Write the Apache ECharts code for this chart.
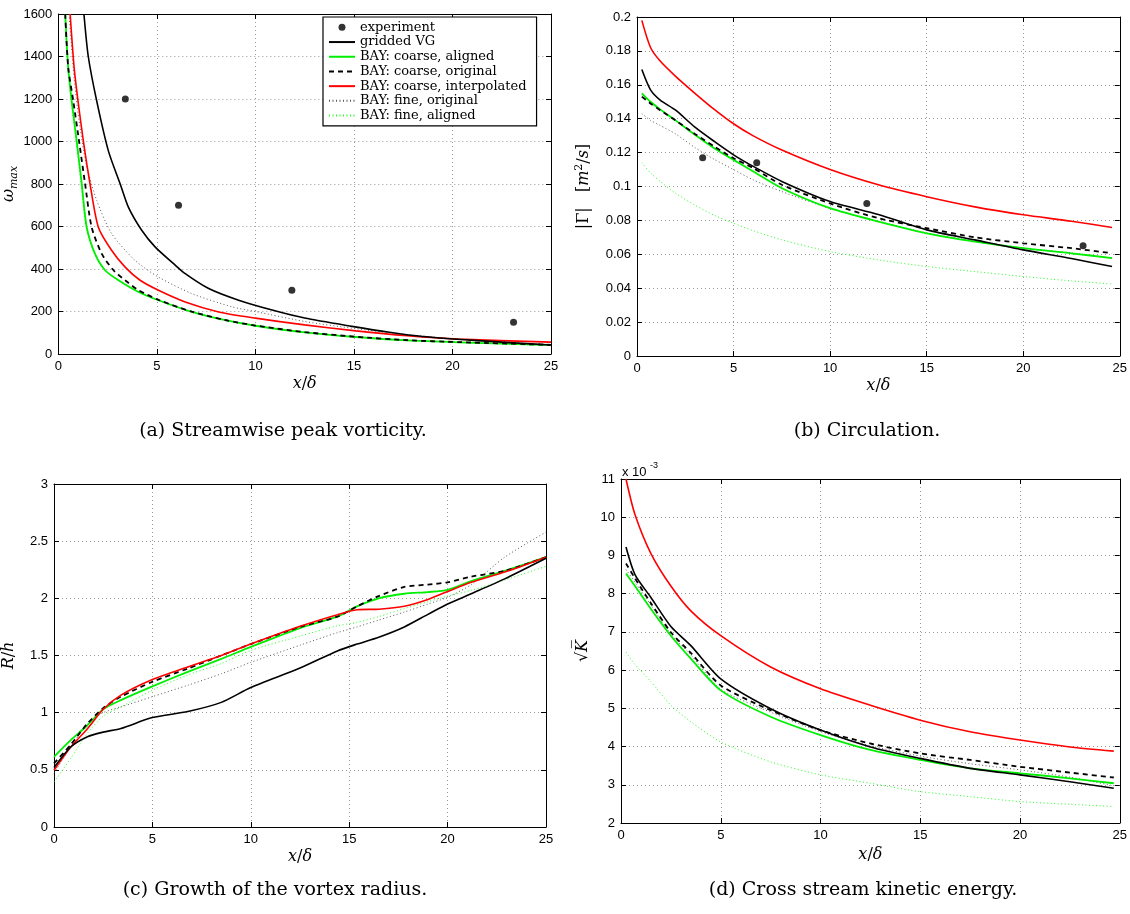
<!DOCTYPE html>
<html>
<head>
<meta charset="utf-8">
<script src="https://cdn.jsdelivr.net/npm/echarts@6/dist/echarts.min.js"></script>
<style>html,body{margin:0;padding:0;background:#fff;}#c{width:1130px;height:914px;}</style>
</head>
<body>
<div id="c"></div>
<script>
// ---------- names ----------
const seriesNames = ['experiment','gridded VG','BAY: coarse, aligned','BAY: coarse, original','BAY: coarse, interpolated','BAY: fine, original','BAY: fine, aligned'];
const xTicks = [0,5,10,15,20,25];
const captions = ['(a) Streamwise peak vorticity.','(b) Circulation.','(c) Growth of the vortex radius.','(d) Cross stream kinetic energy.'];

// ---------- (a) peak vorticity ----------
const aExpX = [3.4, 6.1, 11.85, 23.1];
const aExpY = [1200, 700, 300, 150];
const aVgX = [1.3, 1.52, 1.95, 2.54, 3.14, 3.56, 4.24, 4.92, 5.85, 6.44, 7.63, 9.15, 10.8, 12.5, 14.9, 16.8, 18.5, 21.1, 25];
const aVgY = [1600, 1400, 1190, 956, 800, 690, 581, 503, 425, 378, 308, 253, 208, 169, 130, 102, 82, 64, 42];
const aCaX = [0.35, 0.5, 0.68, 0.93, 1.19, 1.44, 1.86, 2.37, 3.05, 4.07, 5.08, 6.78, 8.47, 10, 12.5, 15.1, 17.7, 20.3, 25];
const aCaY = [1600, 1350, 1190, 1003, 800, 597, 472, 394, 347, 292, 253, 198, 159, 133, 102, 80, 64, 55, 42];
const aCoX = [0.35, 0.5, 0.76, 1.05, 1.36, 1.69, 2.2, 2.8, 3.39, 4.07, 5.08, 6.78, 8.47, 10, 12.5, 15.1, 17.7, 20.3, 25];
const aCoY = [1600, 1350, 1190, 1003, 800, 597, 472, 394, 347, 300, 255, 199, 160, 134, 103, 81, 65, 56, 43];
const aCiX = [0.6, 0.8, 1.0, 1.27, 1.61, 2.03, 2.71, 3.39, 4.15, 5.08, 6.44, 8.14, 10, 12.5, 15.1, 17.7, 20.3, 25];
const aCiY = [1600, 1350, 1190, 1003, 800, 597, 487, 409, 347, 300, 245, 198, 169, 137, 109, 86, 70, 56];
const aFoX = [0.55, 0.8, 1.05, 1.4, 1.95, 2.71, 3.9, 5.08, 6.78, 8.81, 10, 12.5, 15.1, 17.7, 20.3, 25];
const aFoY = [1600, 1300, 1100, 900, 722, 566, 440, 362, 284, 222, 200, 153, 119, 91, 70, 44];
const aFaX = [0.33, 0.48, 0.65, 0.9, 1.15, 1.4, 1.82, 2.4, 3.2, 4.1, 5.08, 6.78, 8.47, 10, 12.5, 15.1, 17.7, 20.3, 25];
const aFaY = [1600, 1350, 1190, 1003, 800, 597, 472, 390, 340, 293, 254, 199, 160, 134, 103, 81, 65, 55, 40];

// ---------- (b) circulation ----------
const bExpX = [3.4, 6.2, 11.9, 23.1];
const bExpY = [0.117, 0.114, 0.090, 0.065];
const bX = [0.25, 0.7, 1.2, 2, 3, 4, 5, 6, 7.5, 10, 12.5, 15, 17.5, 20, 22.5, 24.6];
const bVg = [0.169, 0.157, 0.151, 0.145, 0.135, 0.1266, 0.1187, 0.112, 0.103, 0.0911, 0.0835, 0.0744, 0.0685, 0.0626, 0.0575, 0.0528];
const bCa = [0.155, 0.150, 0.1455, 0.139, 0.1305, 0.1226, 0.1157, 0.109, 0.099, 0.0872, 0.0793, 0.0724, 0.0675, 0.0636, 0.0606, 0.0577];
const bCo = [0.153, 0.149, 0.145, 0.139, 0.131, 0.1236, 0.1167, 0.111, 0.101, 0.090, 0.0813, 0.0754, 0.070, 0.0665, 0.0636, 0.0606];
const bCi = [0.198, 0.182, 0.174, 0.165, 0.155, 0.1455, 0.137, 0.130, 0.1215, 0.110, 0.101, 0.094, 0.088, 0.0833, 0.0795, 0.0758];
const bFo = [0.143, 0.139, 0.136, 0.131, 0.123, 0.116, 0.110, 0.104, 0.097, 0.087, 0.0795, 0.0726, 0.0678, 0.0637, 0.0607, 0.0578];
const bFa = [0.114, 0.108, 0.103, 0.096, 0.089, 0.083, 0.0783, 0.074, 0.0685, 0.0616, 0.0567, 0.0528, 0.0498, 0.0469, 0.0443, 0.0425];

// ---------- (c) vortex radius ----------
const cX = [0, 0.85, 1.7, 2.5, 3.4, 5, 6.8, 8.5, 10, 12.5, 14.4, 15.4, 16.5, 17.8, 19, 20, 21.2, 22.9, 25];
const cVg = [0.52, 0.70, 0.79, 0.83, 0.862, 0.957, 1.01, 1.09, 1.22, 1.39, 1.54, 1.60, 1.66, 1.75, 1.86, 1.95, 2.04, 2.17, 2.35];
const cCa = [0.614, 0.76, 0.89, 1.03, 1.11, 1.23, 1.357, 1.47, 1.575, 1.74, 1.84, 1.93, 2.0, 2.04, 2.055, 2.075, 2.15, 2.24, 2.36];
const cCo = [0.556, 0.72, 0.905, 1.04, 1.14, 1.27, 1.386, 1.50, 1.60, 1.75, 1.84, 1.93, 2.02, 2.10, 2.12, 2.14, 2.19, 2.24, 2.36];
const cCi = [0.497, 0.70, 0.86, 1.03, 1.153, 1.29, 1.40, 1.50, 1.60, 1.755, 1.857, 1.90, 1.905, 1.93, 1.99, 2.06, 2.14, 2.23, 2.36];
const cFo = [0.47, 0.70, 0.90, 1.0, 1.05, 1.14, 1.24, 1.34, 1.44, 1.59, 1.70, 1.75, 1.81, 1.88, 1.95, 2.01, 2.12, 2.36, 2.58];
const cFa = [0.395, 0.60, 0.82, 0.97, 1.05, 1.197, 1.33, 1.43, 1.545, 1.67, 1.76, 1.79, 1.84, 1.91, 1.97, 2.02, 2.07, 2.16, 2.28];

// ---------- (d) cross stream kinetic energy (x 10^-3) ----------
const dX = [0.25, 0.7, 1.5, 2.5, 3.5, 5, 7.5, 10, 12.5, 15, 17.5, 20, 22.5, 24.7];
const dVg = [9.22, 8.5, 7.9, 7.14, 6.64, 5.77, 4.99, 4.43, 3.99, 3.69, 3.43, 3.26, 3.08, 2.91];
const dCa = [8.53, 8.2, 7.6, 6.9, 6.3, 5.47, 4.78, 4.30, 3.91, 3.65, 3.43, 3.30, 3.17, 3.04];
const dCo = [8.79, 8.4, 7.75, 6.99, 6.45, 5.60, 4.95, 4.43, 4.08, 3.82, 3.65, 3.47, 3.32, 3.19];
const dCi = [11.0, 10.07, 9.05, 8.2, 7.55, 6.90, 6.08, 5.51, 5.08, 4.69, 4.385, 4.17, 3.99, 3.88];
const dFo = [8.63, 8.3, 7.7, 6.94, 6.4, 5.5, 4.9, 4.39, 4.02, 3.75, 3.55, 3.39, 3.2, 2.97];
const dFa = [6.47, 6.15, 5.7, 5.08, 4.65, 4.12, 3.60, 3.26, 3.04, 2.82, 2.69, 2.56, 2.49, 2.43];

// ---------- build ----------
const pairs = (xs, ys) => xs.map((x, i) => [x, ys[i]]);
const lineStyles = {
  'gridded VG': {color: '#000000', width: 1.6, type: 'solid'},
  'BAY: coarse, aligned': {color: '#00ee00', width: 1.8, type: 'solid'},
  'BAY: coarse, original': {color: '#000000', width: 1.8, type: [5, 4]},
  'BAY: coarse, interpolated': {color: '#ff0000', width: 1.6, type: 'solid'},
  'BAY: fine, original': {color: '#555555', width: 1, type: [1, 2.5]},
  'BAY: fine, aligned': {color: '#22ff22', width: 1, type: [1, 2.5]}
};
function lineSeries(name, k, data) {
  const ls = lineStyles[name];
  return {
    name: name, type: 'line', xAxisIndex: k, yAxisIndex: k, data: data,
    symbol: 'none', smooth: 0.25, clip: true,
    lineStyle: {color: ls.color, width: ls.width, type: ls.type},
    itemStyle: {color: ls.color}, emphasis: {disabled: true}, animation: false
  };
}
function expSeries(k, data) {
  return {name: 'experiment', type: 'scatter', xAxisIndex: k, yAxisIndex: k, data: data,
    symbol: 'circle', symbolSize: 7, itemStyle: {color: '#000'}, emphasis: {disabled: true}, animation: false, z: 5};
}
const panels = [
  {exp: pairs(aExpX, aExpY), vg: pairs(aVgX, aVgY), ca: pairs(aCaX, aCaY), co: pairs(aCoX, aCoY), ci: pairs(aCiX, aCiY), fo: pairs(aFoX, aFoY), fa: pairs(aFaX, aFaY)},
  {exp: pairs(bExpX, bExpY), vg: pairs(bX, bVg), ca: pairs(bX, bCa), co: pairs(bX, bCo), ci: pairs(bX, bCi), fo: pairs(bX, bFo), fa: pairs(bX, bFa)},
  {vg: pairs(cX, cVg), ca: pairs(cX, cCa), co: pairs(cX, cCo), ci: pairs(cX, cCi), fo: pairs(cX, cFo), fa: pairs(cX, cFa)},
  {vg: pairs(dX, dVg), ca: pairs(dX, dCa), co: pairs(dX, dCo), ci: pairs(dX, dCi), fo: pairs(dX, dFo), fa: pairs(dX, dFa)}
];
const series = [];
panels.forEach((p, k) => {
  series.push(lineSeries('BAY: fine, aligned', k, p.fa));
  series.push(lineSeries('BAY: fine, original', k, p.fo));
  series.push(lineSeries('BAY: coarse, aligned', k, p.ca));
  series.push(lineSeries('BAY: coarse, original', k, p.co));
  series.push(lineSeries('BAY: coarse, interpolated', k, p.ci));
  series.push(lineSeries('gridded VG', k, p.vg));
  if (p.exp) series.push(expSeries(k, p.exp));
});

const grids = [
  {left: 55, top: 14, width: 496, height: 340},
  {left: 637, top: 17, width: 489, height: 339},
  {left: 49, top: 484, width: 497, height: 343},
  {left: 621, top: 479, width: 499, height: 344}
];
const yRanges = [
  {min: 0, max: 1600, interval: 200},
  {min: 0, max: 0.2, interval: 0.02},
  {min: 0, max: 3, interval: 0.5},
  {min: 2, max: 11, interval: 1}
];
const serif = 'DejaVu Serif';
const sans = 'Liberation Sans';
const yNames = [
  '{i|ω}{s|max}',
  '{n||Γ|   [}{i|m}{sup|2}{n|/}{i|s}{n|]}',
  '{i|R}{n|/}{i|h}',
  '{n|√}{i|K̅}'
];
const yGaps = [38, 44, 37, 30];
const xGaps = [22, 22, 22, 24];
const nameRich = {
  i: {fontFamily: serif, fontStyle: 'italic', fontSize: 16, color: '#000'},
  n: {fontFamily: serif, fontSize: 16, color: '#000'},
  s: {fontFamily: serif, fontStyle: 'italic', fontSize: 11, color: '#000', padding: [10, 0, 0, 0]},
  sup: {fontFamily: serif, fontSize: 11, color: '#000', padding: [0, 0, 8, 0]}
};
const tickLabel = {color: '#000', fontFamily: sans, fontSize: 13, margin: 6, formatter: v => String(+v.toFixed(4))};
const split = {show: true, lineStyle: {color: '#9a9a9a', type: [1, 3], width: 1}};
const xAxes = [], yAxes = [];
grids.forEach((g, k) => {
  xAxes.push({type: 'value', gridIndex: k, min: 0, max: 25, interval: 5, position: 'bottom',
    axisLine: {show: true, onZero: false, lineStyle: {color: '#000', width: 1}},
    axisTick: {show: true, inside: true, length: 5, lineStyle: {color: '#000'}},
    axisLabel: tickLabel, splitLine: split,
    name: '{i|x}{n|/}{i|δ}', nameLocation: 'middle', nameGap: xGaps[k], nameTextStyle: {rich: nameRich}});
  yAxes.push(Object.assign({type: 'value', gridIndex: k, position: 'left',
    axisLine: {show: true, onZero: false, lineStyle: {color: '#000', width: 1}},
    axisTick: {show: true, inside: true, length: 5, lineStyle: {color: '#000'}},
    axisLabel: tickLabel, splitLine: split,
    name: yNames[k], nameLocation: 'middle', nameGap: yGaps[k], nameRotate: 90, nameTextStyle: {rich: nameRich}}, yRanges[k]));
});
grids.forEach((g, k) => {
  xAxes.push({type: 'value', gridIndex: k, min: 0, max: 25, interval: 5, position: 'top',
    axisLine: {show: true, onZero: false, lineStyle: {color: '#000', width: 1}},
    axisTick: {show: true, inside: true, length: 5, lineStyle: {color: '#000'}},
    axisLabel: {show: false}, splitLine: {show: false}});
  yAxes.push(Object.assign({type: 'value', gridIndex: k, position: 'right',
    axisLine: {show: true, onZero: false, lineStyle: {color: '#000', width: 1}},
    axisTick: {show: true, inside: true, length: 5, lineStyle: {color: '#000'}},
    axisLabel: {show: false}, splitLine: {show: false}}, yRanges[k]));
});

const captionPos = [[278, 417], [862, 417], [270, 876], [858, 876]];
const titles = captions.map((t, k) => ({
  text: t, left: captionPos[k][0], top: captionPos[k][1], textAlign: 'center',
  textStyle: {fontFamily: serif, fontWeight: 'normal', fontSize: 19, color: '#000'}
}));

const legendData = seriesNames.map(n => n === 'experiment'
  ? {name: n, icon: 'circle'}
  : {name: n, itemStyle: {opacity: 0}});

const option = {
  animation: false,
  backgroundColor: '#fff',
  title: titles,
  grid: grids,
  xAxis: xAxes,
  yAxis: yAxes,
  legend: {
    data: legendData, orient: 'vertical', left: 323, top: 17,
    backgroundColor: '#fff', borderColor: '#000', borderWidth: 1.2, borderRadius: 0,
    padding: [3, 10, 3, 5], itemGap: 0, itemWidth: 26, itemHeight: 7,
    selectedMode: false,
    textStyle: {fontFamily: serif, fontSize: 13, color: '#000', lineHeight: 14.7}
  },
  graphic: [
    {type: 'text', left: 622, top: 466, style: {text: 'x 10', fontFamily: sans, fontSize: 13, fill: '#000'}},
    {type: 'text', left: 650, top: 461, style: {text: '-3', fontFamily: sans, fontSize: 9, fill: '#000'}}
  ],
  series: series
};
const chart = echarts.init(document.getElementById('c'), null, {renderer: 'canvas'});
chart.setOption(option);
</script>
</body>
</html>
